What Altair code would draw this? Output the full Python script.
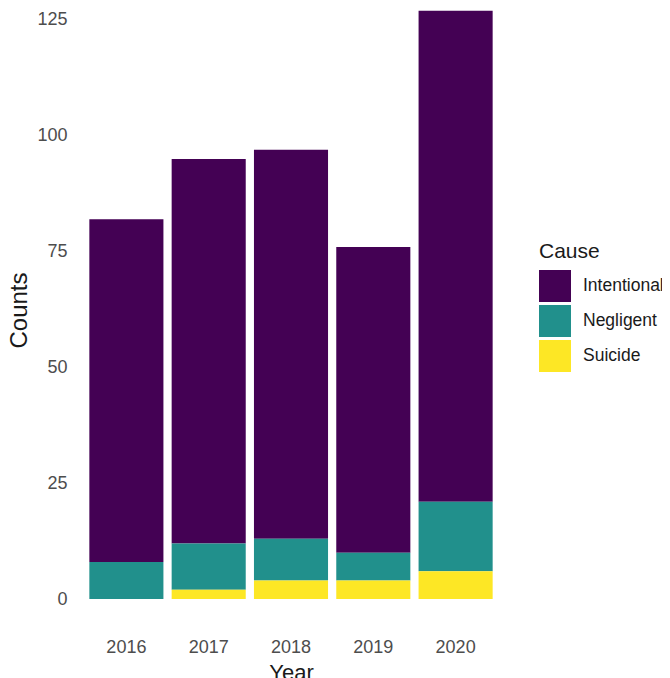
import altair as alt
import pandas as pd

years = ["2016", "2017", "2018", "2019", "2020"]
causes = ["Intentional", "Negligent", "Suicide"]
intentional = [74, 83, 84, 66, 106]
negligent = [8, 10, 9, 6, 15]
suicide = [0, 2, 4, 4, 6]
colors = ["#440154", "#21908C", "#FDE725"]
stack_order = {"Suicide": 0, "Negligent": 1, "Intentional": 2}

rows = []
for i, y in enumerate(years):
    for c, vals in zip(causes, [intentional, negligent, suicide]):
        rows.append({"Year": y, "Cause": c, "Counts": vals[i], "ord": stack_order[c]})
df = pd.DataFrame(rows)

FONT = "Liberation Sans"

chart = alt.Chart(df).mark_bar(stroke=None).encode(
    x=alt.X("Year:N", sort=years,
            scale=alt.Scale(paddingInner=0.1, paddingOuter=0.15),
            axis=alt.Axis(labelAngle=0, labelPadding=18, ticks=False, domain=False,
                          grid=False, labelFontSize=18, labelColor="#4D4D4D",
                          titleFontSize=22, titleFontWeight="normal", titleColor="#1a1a1a",
                          titlePadding=6, labelFont=FONT, titleFont=FONT)),
    y=alt.Y("Counts:Q", stack="zero",
            scale=alt.Scale(domain=[-4.53, 129.3], nice=False, zero=False),
            axis=alt.Axis(values=[0, 25, 50, 75, 100, 125], labelPadding=10, ticks=False,
                          domain=False, grid=False, labelFontSize=18, labelColor="#4D4D4D",
                          titleFontSize=24, titleFontWeight="normal", titleColor="#1a1a1a",
                          titleX=-58, titleY=310, titleAngle=-90, titleAlign="center",
                          titleBaseline="middle", labelFont=FONT, titleFont=FONT)),
    color=alt.Color("Cause:N", scale=alt.Scale(domain=causes, range=colors),
                    legend=alt.Legend(orient="none", legendX=462, legendY=241,
                                      symbolType="square", symbolSize=1024,
                                      symbolStrokeWidth=0, symbolOpacity=1,
                                      rowPadding=3, labelOffset=12,
                                      labelFontSize=17.5, labelColor="#1a1a1a",
                                      titleFontSize=21, titleFontWeight="normal",
                                      titleColor="#1a1a1a", titlePadding=8,
                                      labelFont=FONT, titleFont=FONT)),
    order=alt.Order("ord:Q"),
).properties(
    width=428, height=620,
    autosize=alt.AutoSizeParams(type="none"),
    padding={"left": 69, "top": -8, "right": 157, "bottom": 58},
).configure_view(stroke=None)

chart.save("out.html", embed_options={"renderer": "svg", "actions": False})
